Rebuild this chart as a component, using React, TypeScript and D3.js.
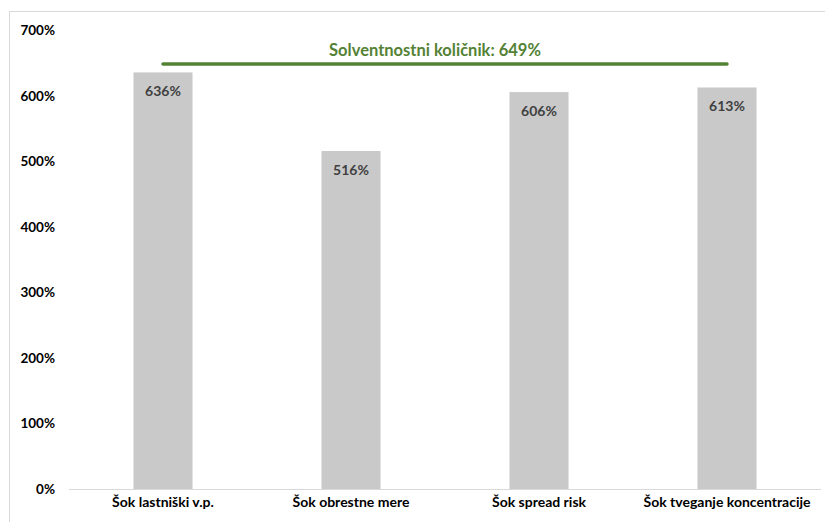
import { useMemo } from "react";
import * as d3 from "d3";

const categories = [
  "Šok lastniški v.p.",
  "Šok obrestne mere",
  "Šok spread risk",
  "Šok tveganje koncentracije",
];
const values = [636, 516, 606, 613];
const solvencyRatio = 649;
const yTicks = [0, 100, 200, 300, 400, 500, 600, 700];

const W = 825;
const H = 522;
const FONT = "Lato, 'Open Sans', sans-serif";

export default function App() {
  const x = useMemo(
    () =>
      d3
        .scaleBand<string>()
        .domain(categories)
        .range([69, 821])
        .paddingInner(0.686)
        .paddingOuter(0.343),
    [],
  );
  const y = useMemo(
    () => d3.scaleLinear().domain([0, 700]).range([489, 30.5]),
    [],
  );

  const first = x(categories[0])! + x.bandwidth() / 2;
  const last = x(categories[categories.length - 1])! + x.bandwidth() / 2;
  const lineY = y(solvencyRatio);

  return (
    <svg
      width={W}
      height={H}
      style={{ position: "absolute", left: 0, top: 0, fontFamily: FONT }}
    >
      <rect x={0} y={0} width={W} height={H} fill="#fff" />
      <rect
        x={9.5}
        y={11.5}
        width={W}
        height={H}
        fill="none"
        stroke="#d9d9d9"
      />

      {/* y tick labels */}
      {yTicks.map((t) => (
        <text
          key={t}
          x={55}
          y={y(t)}
          dy="0.35em"
          textAnchor="end"
          fontSize={13.5}
          fontWeight="bold"
          fill="#000"
        >
          {t}%
        </text>
      ))}

      {/* bars */}
      {categories.map((c, i) => (
        <g key={c}>
          <rect
            x={x(c)}
            y={y(values[i])}
            width={x.bandwidth()}
            height={y(0) - y(values[i])}
            fill="#c9c9c9"
          />
          <text
            x={x(c)! + x.bandwidth() / 2}
            y={y(values[i]) + 19}
            dy="0.35em"
            textAnchor="middle"
            fontSize={14}
            fontWeight="bold"
            fill="#404040"
          >
            {values[i]}%
          </text>
        </g>
      ))}

      {/* x axis */}
      <line x1={69} x2={821} y1={489.5} y2={489.5} stroke="#d9d9d9" />
      {categories.map((c) => (
        <text
          key={c}
          x={x(c)! + x.bandwidth() / 2}
          y={502}
          dy="0.35em"
          textAnchor="middle"
          fontSize={14}
          fontWeight="bold"
          fill="#000"
        >
          {c}
        </text>
      ))}

      {/* solvency ratio line */}
      <line
        x1={first}
        x2={last}
        y1={lineY}
        y2={lineY}
        stroke="#548235"
        strokeWidth={3.5}
        strokeLinecap="round"
      />
      <text
        x={(first + last) / 2 - 10}
        y={lineY - 14}
        dy="0.35em"
        textAnchor="middle"
        fontSize={16.5}
        fontWeight="bold"
        fill="#548235"
      >
        Solventnostni količnik: {solvencyRatio}%
      </text>
    </svg>
  );
}
